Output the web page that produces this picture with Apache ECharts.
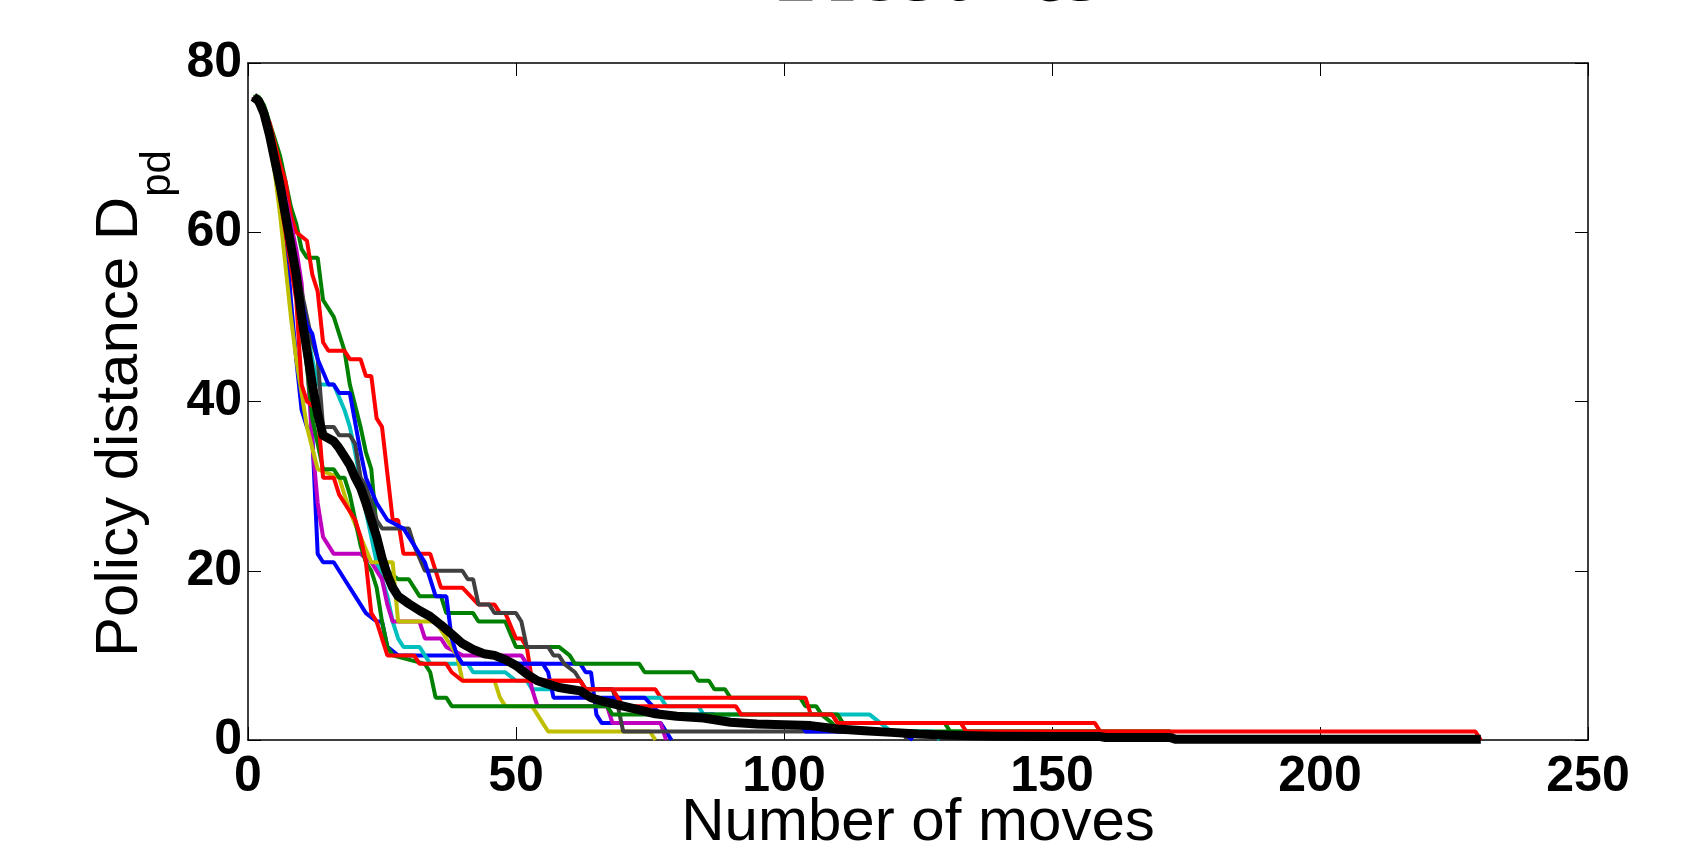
<!DOCTYPE html>
<html>
<head>
<meta charset="utf-8">
<script src="https://cdn.jsdelivr.net/npm/echarts@6/dist/echarts.min.js"></script>
<style>
html,body{margin:0;padding:0;background:#fff;}
#chart{width:1704px;height:854px;}
</style>
</head>
<body>
<div id="chart"></div>
<script>
// ---- data (move number, policy distance) ----
const titleText = 'Results';
const xTitle = 'Number of moves';
const yTitleMain = 'Policy distance D';
const yTitleSub = 'pd';

const runBlue1 = [[1,76],[3,74],[5,68],[7,60],[8,52],[9,45],[10,39],[11,37],[12,36],[13,22],[14,21],[16,21],[18,19],[20,17],[22,15],[24,14],[25,14],[26,11],[28,10],[39,10],[40,9],[62,9],[63,8],[64,8],[65,3],[66,2],[77,2],[79,0]];
const runGreen1 = [[1,76],[2,76],[3,75],[4,73],[5,71],[6,69],[7,66],[8,63],[9,61],[10,58],[11,57],[13,57],[14,52],[16,50],[18,46],[19,42],[21,37],[22,34],[23,32],[24,25],[25,20],[26,20],[28,19],[30,19],[32,17],[36,17],[37,15],[42,15],[43,14],[48,14],[50,11],[58,11],[60,10],[61,9],[73,9],[74,8],[83,8],[84,7],[86,7],[87,6],[89,6],[90,5],[103,5],[104,4],[106,4],[107,3],[109,2],[110,1],[159,1],[160,0]];
const runRed1 = [[1,76],[4,73],[6,68],[7,66],[8,62],[9,60],[11,59],[12,55],[13,53],[14,47],[15,46],[18,46],[19,45],[21,45],[22,43],[23,43],[24,38],[25,37],[27,26],[28,26],[29,22],[34,22],[36,18],[40,18],[43,16],[46,16],[47,15],[48,15],[50,12],[51,12],[52,11],[53,7],[62,7],[63,6],[76,6],[77,5],[104,5],[105,3],[109,3],[110,2],[158,2],[159,1],[229,1],[230,0]];
const runCyan = [[1,76],[3,74],[5,68],[7,61],[9,55],[11,48],[12,45],[13,42],[16,42],[18,39],[19,37],[20,34],[22,27],[23,24],[24,21],[26,17],[27,14],[28,12],[29,11],[32,11],[33,10],[34,9],[41,9],[42,8],[48,8],[50,7],[52,7],[53,6],[68,6],[69,5],[77,5],[78,4],[84,4],[85,3],[116,3],[118,2],[120,1],[128,1],[129,0]];
const runMagenta = [[1,76],[3,74],[5,69],[7,64],[9,58],[10,54],[11,45],[12,35],[13,28],[14,24],[15,23],[16,22],[21,22],[23,21],[25,19],[26,16],[27,14],[32,14],[33,12],[36,12],[37,11],[40,10],[51,10],[52,9],[53,6],[54,4],[67,4],[68,2],[77,2],[78,0]];
const runYellow = [[1,76],[3,74],[5,67],[6,62],[7,56],[8,50],[9,45],[10,41],[11,37],[13,32],[17,31],[18,29],[19,27],[21,24],[23,21],[27,21],[28,14],[35,14],[36,13],[38,11],[39,10],[40,7],[46,7],[47,5],[48,4],[53,4],[55,2],[56,1],[75,1],[76,0]];
const runGrey = [[1,76],[3,74],[5,68],[7,62],[9,56],[11,50],[12,47],[13,45],[14,37],[16,37],[17,36],[19,36],[20,35],[21,31],[22,30],[24,26],[25,25],[30,25],[31,23],[33,20],[40,20],[41,19],[42,19],[43,16],[45,16],[46,15],[50,15],[51,14],[52,11],[56,11],[57,10],[58,10],[59,9],[61,8],[62,7],[63,6],[68,6],[69,4],[70,1],[122,1],[123,0]];
const runBlue2 = [[1,76],[3,74],[5,69],[7,62],[9,55],[10,52],[11,49],[12,48],[13,45],[15,42],[16,42],[17,41],[19,41],[21,34],[22,31],[24,28],[26,26],[29,25],[31,23],[33,21],[34,19],[35,17],[37,17],[38,12],[39,10],[40,9],[55,9],[56,8],[57,5],[74,5],[77,3],[87,3],[88,2],[103,2],[104,1],[122,1],[124,0]];
const runGreen2 = [[1,76],[3,74],[5,68],[7,62],[9,55],[10,50],[11,44],[12,38],[13,35],[14,32],[16,32],[17,31],[18,31],[19,29],[20,26],[21,23],[22,21],[23,20],[24,18],[25,14],[26,11],[27,10],[33,9],[34,8],[35,5],[37,5],[38,4],[67,4],[68,3],[110,3],[111,2],[130,2],[131,1],[172,1],[173,0]];
const runRed2 = [[1,76],[3,74],[5,68],[7,60],[8,56],[9,52],[10,42],[11,40],[13,39],[14,31],[16,31],[17,29],[18,28],[20,26],[21,24],[22,21],[23,15],[24,14],[26,10],[31,10],[32,9],[37,9],[38,8],[40,7],[62,7],[63,6],[68,6],[70,4],[91,4],[92,3],[109,3],[110,2],[133,2],[134,1],[172,1],[173,0]];
const meanRun = [[1,76],[2,75.5],[3,74],[4,71.5],[5,68.5],[6,65.5],[7,62],[8,58.5],[9,55],[10,50],[11,46],[12,42],[13,38.5],[14,36],[16,35.3],[17,34.5],[18,33.5],[19,32.5],[20,31],[21,29.8],[22,28],[23,26],[24,24],[25,21.5],[26,19.5],[27,18],[28,17],[30,16.1],[32,15.3],[34,14.6],[36,13.6],[38,12.5],[40,11.4],[42,10.7],[44,10.2],[46,10],[48,9.5],[50,8.8],[52,7.8],[54,7],[56,6.6],[58,6.2],[60,6],[62,5.8],[64,5],[66,4.6],[68,4.3],[70,4],[72,3.7],[76,3.1],[80,2.8],[85,2.6],[90,2.1],[95,1.9],[100,1.8],[105,1.7],[110,1.3],[115,1.1],[120,0.9],[125,0.7],[130,0.6],[135,0.5],[140,0.45],[150,0.4],[159,0.4],[160,0.3],[172,0.3],[173,0.1],[230,0.1]];

const runs = [
  {data: runBlue1, color: '#0000ff'},
  {data: runGreen1, color: '#008000'},
  {data: runRed1, color: '#ff0000'},
  {data: runCyan, color: '#00bfbf'},
  {data: runMagenta, color: '#bf00bf'},
  {data: runYellow, color: '#bfbf00'},
  {data: runGrey, color: '#404040'},
  {data: runBlue2, color: '#0000ff'},
  {data: runGreen2, color: '#008000'},
  {data: runRed2, color: '#ff0000'}
];

const FONT = '"Liberation Sans", Arial, Helvetica, sans-serif';
const chart = echarts.init(document.getElementById('chart'), null, {renderer: 'canvas'});

const series = runs.map(r => ({
  type: 'line', data: r.data, showSymbol: false, symbol: 'none',
  lineStyle: {color: r.color, width: 4}, itemStyle: {color: r.color},
  animation: false, clip: true, z: 2
}));
series.push({
  type: 'line', data: meanRun, showSymbol: false, symbol: 'none',
  lineStyle: {color: '#000', width: 9, join: 'round'}, animation: false, clip: true, z: 3
});

function axLine() { return {show: true, onZero: false, lineStyle: {color: '#000', width: 1.5}}; }
function axTick() { return {show: true, inside: true, length: 13, lineStyle: {color: '#000', width: 1}}; }

// measure y-title main text to place subscript right after it
const mctx = document.createElement('canvas').getContext('2d');
const yMainFont = '60px "Liberation Sans", Arial, sans-serif';
const ySubFont = '42px "Liberation Sans", Arial, sans-serif';
mctx.font = yMainFont;
const yMainW = mctx.measureText(yTitleMain).width;
const yStart = 657;

const GRID = {left: 248, top: 63, width: 1340, height: 677};

chart.setOption({
  animation: false,
  backgroundColor: '#fff',
  grid: Object.assign({containLabel: false, outerBoundsMode: 'none'}, GRID),
  xAxis: [{
    type: 'value', min: 0, max: 250, interval: 50, position: 'bottom',
    axisLine: axLine(), axisTick: axTick(), splitLine: {show: false},
    axisLabel: {fontSize: 50, fontWeight: 'bold', color: '#000', fontFamily: FONT, margin: 12}
  }, {
    type: 'value', min: 0, max: 250, interval: 50, position: 'top',
    axisLine: axLine(), axisTick: axTick(), splitLine: {show: false},
    axisLabel: {show: false}
  }],
  yAxis: [{
    type: 'value', min: 0, max: 80, interval: 20, position: 'left',
    axisLine: axLine(), axisTick: axTick(), splitLine: {show: false},
    axisLabel: {fontSize: 50, fontWeight: 'bold', color: '#000', fontFamily: FONT, margin: 6}
  }, {
    type: 'value', min: 0, max: 80, interval: 20, position: 'right',
    axisLine: axLine(), axisTick: axTick(), splitLine: {show: false},
    axisLabel: {show: false}
  }],
  graphic: [{
    type: 'text', x: 940, y: -27, silent: true,
    style: {text: titleText, font: 'bold 105px "Liberation Serif", "Times New Roman", serif', fill: '#000', align: 'center', verticalAlign: 'middle'}
  }, {
    type: 'text', x: GRID.left + GRID.width / 2, y: 823, silent: true,
    style: {text: xTitle, font: '60px "Liberation Sans", Arial, sans-serif', fill: '#000', align: 'center', verticalAlign: 'middle'}
  }, {
    type: 'text', x: 120, y: yStart, rotation: Math.PI / 2, silent: true,
    style: {text: yTitleMain, font: yMainFont, fill: '#000', align: 'left', verticalAlign: 'middle'}
  }, {
    type: 'text', x: 158, y: yStart - yMainW, rotation: Math.PI / 2, silent: true,
    style: {text: yTitleSub, font: ySubFont, fill: '#000', align: 'left', verticalAlign: 'middle'}
  }],
  series: series
});
</script>
</body>
</html>
